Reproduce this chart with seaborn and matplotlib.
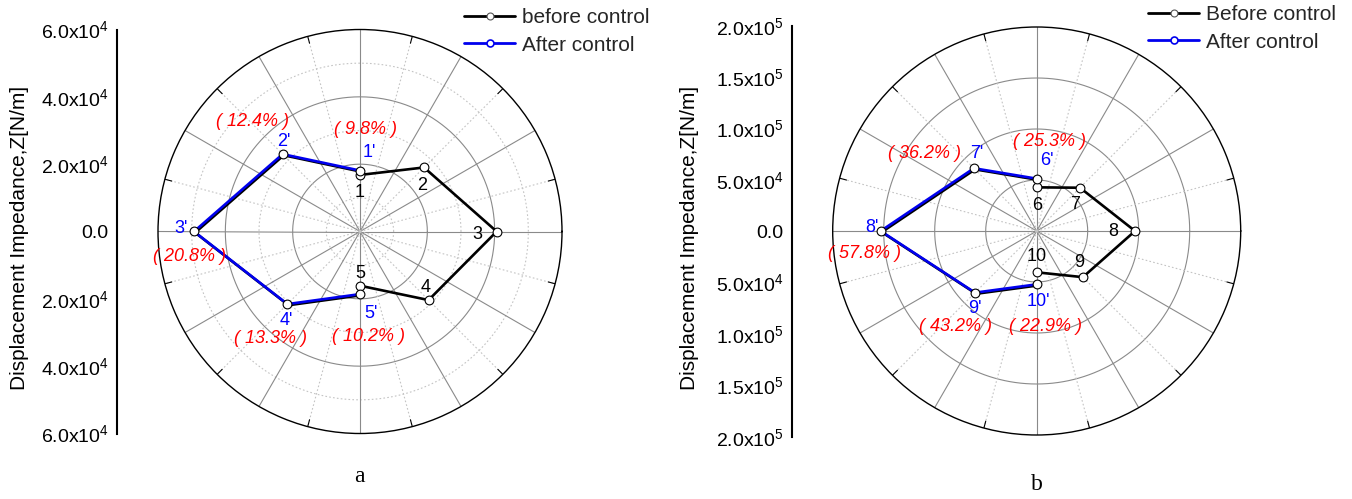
import numpy as np
import matplotlib
matplotlib.use("Agg")
import matplotlib.pyplot as plt
import matplotlib.patheffects as pe
from matplotlib.lines import Line2D
from matplotlib.ticker import FuncFormatter, MultipleLocator
import seaborn as sns

sns.set_theme(style="white")
plt.rcParams["font.family"] = ["Liberation Sans", "DejaVu Sans"]
plt.rcParams["mathtext.default"] = "regular"

# ---- panel a: measuring points 1-5 ----
a_angles_before = [90, 45, 0, -45, -90]      # degrees
a_angles_after = [90, 135, 180, 225, 270]
a_z_before = [1.68e4, 2.69e4, 4.06e4, 2.88e4, 1.61e4]
a_z_after = [1.81e4, 3.25e4, 4.93e4, 3.05e4, 1.86e4]
a_names_before = ["1", "2", "3", "4", "5"]
a_names_after = ["1'", "2'", "3'", "4'", "5'"]
a_reduction = ["( 9.8% )", "( 12.4% )", "( 20.8% )", "( 13.3% )", "( 10.2% )"]
a_zmax = 6e4
a_legend = ["before control", "After control"]

# ---- panel b: measuring points 6-10 ----
b_angles_before = [90, 45, 0, -45, -90]
b_angles_after = [90, 135, 180, 225, 270]
b_z_before = [4.28e4, 6.0e4, 9.64e4, 6.4e4, 4.05e4]
b_z_after = [5.13e4, 8.7e4, 1.53e5, 8.55e4, 5.23e4]
b_names_before = ["6", "7", "8", "9", "10"]
b_names_after = ["6'", "7'", "8'", "9'", "10'"]
b_reduction = ["( 25.3% )", "( 36.2% )", "( 57.8% )", "( 43.2% )", "( 22.9% )"]
b_zmax = 2e5
b_legend = ["Before control", "After control"]

# label offsets from their points, in pixels
a_off_before = [(0, -18), (-2, -18), (-19, -3), (-3, 13), (0, 12)]
a_off_after = [(9, 18), (1, 13), (-13, 3), (-1, -16), (11, -19)]
a_off_pct = [(5, 41), (-30, 33), (-5, -25), (-17, -34), (8, -42)]
b_off_before = [(0, -18), (-5, -17), (-22, -1), (-4, 15), (0, 16)]
b_off_after = [(10, 18), (3, 15), (-9, 3), (0, -16), (2, -17)]
b_off_pct = [(13, 37), (-49, 15), (-16, -22), (-20, -34), (9, -42)]

W, H = 1352, 499
fig = plt.figure(figsize=(W / 100, H / 100), dpi=100)


def rect(x0, top, w, h):
    return [x0 / W, 1 - (top + h) / H, w / W, h / H]


def sci_abs(v, _pos=None):
    v = abs(v)
    if v < 1e-9:
        return "0.0"
    e = int(np.floor(np.log10(v) + 1e-9))
    return f"{v / 10 ** e:.1f}x10$^{{{e}}}$"


GRID = "#8a8a8a"
DOT = "#c4c4c4"


def polar_grid(ax, zmax, solid_r, dotted_r):
    th = np.linspace(0, 2 * np.pi, 721)
    for r in solid_r:
        ax.plot(th, np.full_like(th, r), color=GRID, lw=0.8, zorder=1)
    for r in dotted_r:
        ax.plot(th, np.full_like(th, r), color=DOT, lw=0.8,
                ls=(0, (1.5, 2)), zorder=1)
    for d in range(0, 360, 30):
        t = np.deg2rad(d)
        ax.plot([t, t], [0, zmax], color=GRID, lw=0.8, zorder=1)
    for d in range(15, 360, 30):
        t = np.deg2rad(d)
        ax.plot([t, t], [0, zmax], color=DOT, lw=0.8, ls=(0, (1.5, 2)), zorder=1)
        ax.plot([t, t], [zmax * 0.965, zmax], color="black", lw=0.8, zorder=2)


def panel(prect, arect, zmax, solid_r, dotted_r, major, minor,
          ang_b, z_b, ang_a, z_a, n_b, n_a, pct, off_b, off_a, off_p,
          leg_labels, leg_anchor, leg_edge_before, letter, letter_xy, label_xy):
    ax = fig.add_axes(prect, projection="polar")
    ax.set_facecolor("white")
    polar_grid(ax, zmax, solid_r, dotted_r)

    tb = np.deg2rad(ang_b)
    ta = np.deg2rad(ang_a)
    sns.lineplot(x=ta, y=z_a, sort=False, estimator=None, ax=ax,
                 color="#0000ee", lw=1.9, zorder=4, legend=False,
                 path_effects=[pe.SimpleLineShadow(offset=(0.8, -0.8),
                                                   shadow_color="black",
                                                   alpha=1.0, rho=1.0),
                               pe.Normal()])
    sns.lineplot(x=tb, y=z_b, sort=False, estimator=None, ax=ax,
                 color="black", lw=1.9, zorder=4, legend=False)
    ax.scatter(tb, z_b, s=40, facecolor="white", edgecolor="black",
               linewidths=0.8, zorder=5)
    ax.scatter(ta, z_a, s=40, facecolor="white", edgecolor="black",
               linewidths=0.8, zorder=5)

    ax.set_ylim(0, zmax)
    ax.set_xticks([])
    ax.set_yticks([])
    ax.grid(False)
    ax.set_xlabel("")
    ax.set_ylabel("")
    ax.spines["polar"].set_color("black")
    ax.spines["polar"].set_linewidth(1.0)

    for t, z, s, o in zip(tb, z_b, n_b, off_b):
        ax.annotate(s, (t, z), xytext=o, textcoords="offset pixels",
                    ha="center", va="center", fontsize=13, color="black",
                    zorder=6)
    for t, z, s, o in zip(ta, z_a, n_a, off_a):
        ax.annotate(s, (t, z), xytext=o, textcoords="offset pixels",
                    ha="center", va="center", fontsize=13, color="#0000ff",
                    zorder=6)
    for t, z, s, o in zip(ta, z_a, pct, off_p):
        ax.annotate(s, (t, z), xytext=o, textcoords="offset pixels",
                    ha="center", va="center", fontsize=13, color="#ff0000",
                    style="italic", zorder=6)

    # vertical impedance scale
    sx = fig.add_axes(arect)
    sx.set_facecolor("none")
    sx.set_ylim(-zmax, zmax)
    sx.set_xticks([])
    for s in ("top", "right", "bottom"):
        sx.spines[s].set_visible(False)
    sx.spines["left"].set_color("black")
    sx.spines["left"].set_linewidth(1.5)
    sx.yaxis.set_major_locator(MultipleLocator(major))
    sx.yaxis.set_minor_locator(MultipleLocator(minor))
    sx.yaxis.set_major_formatter(FuncFormatter(sci_abs))
    sx.tick_params(axis="y", which="major", direction="in", length=5,
                   width=1.2, labelsize=14, pad=6, colors="black")
    sx.tick_params(axis="y", which="minor", direction="in", length=2.8,
                   width=1.0, colors="black")
    sx.set_ylabel("Displacement Impedance,Z[N/m]", fontsize=15, color="black")
    sx.yaxis.set_label_coords(label_xy[0] / W, 1 - label_xy[1] / H,
                              transform=fig.transFigure)

    handles = [
        Line2D([], [], color="black", lw=2, marker="o", markersize=5,
               markerfacecolor="white", markeredgecolor=leg_edge_before,
               markeredgewidth=0.8),
        Line2D([], [], color="#0000ee", lw=2, marker="o", markersize=5,
               markerfacecolor="white", markeredgecolor="#0000ee",
               markeredgewidth=1.2),
    ]
    fig.legend(handles, leg_labels, loc="upper left",
               bbox_to_anchor=(leg_anchor[0] / W, 1 - leg_anchor[1] / H),
               bbox_transform=fig.transFigure, frameon=False, fontsize=15,
               handlelength=2.45, handletextpad=0.35, labelspacing=0.42,
               borderpad=0, borderaxespad=0)

    fig.text(letter_xy[0] / W, 1 - letter_xy[1] / H, letter,
             family="Liberation Serif", fontsize=17, ha="center", va="center",
             color="black")


panel(rect(158, 29.5, 404, 404), rect(117, 29.5, 1, 404), a_zmax,
      [2e4, 4e4], [1e4, 3e4, 5e4], 2e4, 1e4,
      a_angles_before, a_z_before, a_angles_after, a_z_after,
      a_names_before, a_names_after, a_reduction,
      a_off_before, a_off_after, a_off_pct,
      a_legend, (464, 8), "#555555", "a", (359, 476), (29, 238))

panel(rect(832.7, 27, 408, 408), rect(792, 25.7, 1, 411), b_zmax,
      [5e4, 1e5, 1.5e5], [], 5e4, 2.5e4,
      b_angles_before, b_z_before, b_angles_after, b_z_after,
      b_names_before, b_names_after, b_reduction,
      b_off_before, b_off_after, b_off_pct,
      b_legend, (1148, 5), "#555555", "b", (1037, 484), (699, 238))

fig.savefig("out.png", dpi=100, facecolor="white")
